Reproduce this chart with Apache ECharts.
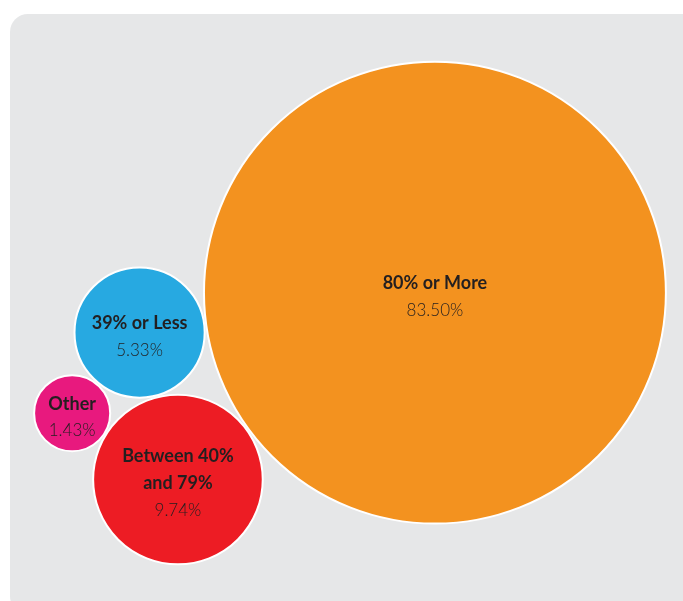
<!DOCTYPE html>
<html>
<head>
<meta charset="utf-8">
<script src="https://cdn.jsdelivr.net/npm/echarts@6/dist/echarts.min.js"></script>
<style>
  html, body { margin: 0; padding: 0; background: #ffffff; }
  #chart { width: 683px; height: 601px; }
</style>
</head>
<body>
<div id="chart"></div>
<script>
// ---- data ----
const categories = ['80% or More', 'Between 40% and 79%', '39% or Less', 'Other'];
const shares = [83.50, 9.74, 5.33, 1.43];
const colors = ['#f3921f', '#ed1c24', '#27a9e1', '#e8197e'];

// ---- bubble size scale (diameter from value) ----
function diameter(v) { return 20 + 48.58 * Math.sqrt(v); }

// ---- simple sibling packing: each circle tangent to earlier ones ----
function tangent(P, rp, Q, rq, r, side) {
  const d1 = rp + r, d2 = rq + r;
  const dx = Q[0] - P[0], dy = Q[1] - P[1];
  const D = Math.hypot(dx, dy);
  const a = (d1 * d1 - d2 * d2 + D * D) / (2 * D);
  const h = Math.sqrt(Math.max(0, d1 * d1 - a * a));
  const ux = dx / D, uy = dy / D;
  return [P[0] + a * ux - side * h * uy, P[1] + a * uy + side * h * ux];
}
const R = shares.map(v => diameter(v) / 2);
const pos = [];
pos[0] = [0, 0];
const ang = 172.3 * Math.PI / 180;
pos[2] = [(R[0] + R[2]) * Math.cos(ang), (R[0] + R[2]) * Math.sin(ang)];
(function () {
  const b1 = tangent(pos[0], R[0], pos[2], R[2], R[1], 1);
  const b2 = tangent(pos[0], R[0], pos[2], R[2], R[1], -1);
  pos[1] = b1[1] > b2[1] ? b1 : b2;             // below the big/blue pair
  const d1 = tangent(pos[2], R[2], pos[1], R[1], R[3], 1);
  const d2 = tangent(pos[2], R[2], pos[1], R[1], R[3], -1);
  pos[3] = d1[0] < d2[0] ? d1 : d2;             // outer (left) side
})();
let minX = Infinity, maxX = -Infinity, minY = Infinity, maxY = -Infinity;
pos.forEach((p, i) => {
  minX = Math.min(minX, p[0] - R[i]); maxX = Math.max(maxX, p[0] + R[i]);
  minY = Math.min(minY, p[1] - R[i]); maxY = Math.max(maxY, p[1] + R[i]);
});
const cx = 350, cy = 313;
const offX = cx - (minX + maxX) / 2, offY = cy - (minY + maxY) / 2;

function wrap(text, maxChars) {
  const words = text.split(' ');
  const lines = [];
  let cur = '';
  words.forEach(w => {
    const t = cur ? cur + ' ' + w : w;
    if (t.length > maxChars && cur) { lines.push(cur); cur = w; } else { cur = t; }
  });
  if (cur) lines.push(cur);
  return lines;
}

const seriesData = categories.map((name, i) => ({
  name: name,
  value: [pos[i][0] + offX, pos[i][1] + offY, shares[i]],
  symbolSize: diameter(shares[i]) - 2,
  itemStyle: { color: colors[i] }
}));

const chart = echarts.init(document.getElementById('chart'), null, { renderer: 'canvas' });
chart.setOption({
  animation: false,
  backgroundColor: '#ffffff',
  graphic: [{
    type: 'rect',
    z: -10,
    silent: true,
    shape: { x: 10, y: 14, width: 690, height: 600, r: 18 },
    style: { fill: '#e6e7e8' }
  }],
  grid: { left: 0, right: 0, top: 0, bottom: 0 },
  xAxis: { type: 'value', min: 0, max: 683, show: false },
  yAxis: { type: 'value', min: 0, max: 601, inverse: true, show: false },
  series: [{
    type: 'scatter',
    z: 5,
    data: seriesData,
    itemStyle: { borderColor: '#ffffff', borderWidth: 2, opacity: 1 },
    label: {
      show: true,
      position: 'inside',
      offset: [0, 4],
      align: 'center',
      formatter: p => wrap(p.name, 12).map(l => '{b|' + l + '}').join('\n') +
        '\n{v|' + p.value[2].toFixed(2) + '%}',
      rich: {
        b: { fontFamily: 'Lato', fontWeight: 'bold', fontSize: 18, lineHeight: 27, color: '#231f20', align: 'center' },
        v: { fontFamily: 'Lato', fontWeight: 300, fontSize: 17, lineHeight: 27, color: '#231f20', align: 'center' }
      }
    },
    emphasis: { disabled: true }
  }]
});
</script>
</body>
</html>
